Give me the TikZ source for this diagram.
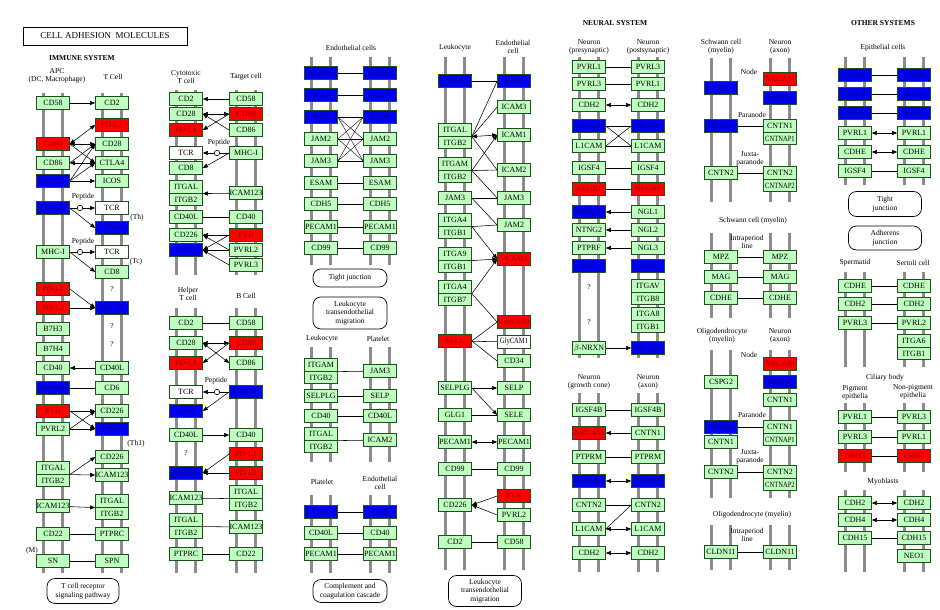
\documentclass[tikz,border=0pt]{standalone}
\usepackage{fontspec}
\setmainfont{Liberation Serif}
\usepackage{graphicx}
\usetikzlibrary{arrows.meta}
\definecolor{kgreen}{HTML}{BFFFBF}
\definecolor{kborder}{HTML}{1F4F1F}
\definecolor{kred}{HTML}{FF0000}
\definecolor{kredtxt}{HTML}{990000}
\definecolor{kblue}{HTML}{0000F0}
\definecolor{kbluetxt}{HTML}{00008B}
\definecolor{kgray}{HTML}{8C8C8C}
\newcommand\sq[1]{\scalebox{0.82}[1]{#1}}
\newcommand\gbx[4]{\node[gnbox] (#1) at (#2,#3) {#4};}
\newcommand\rbx[4]{\node[rdbox] (#1) at (#2,#3) {#4};}
\newcommand\bbx[4]{\node[blbox] (#1) at (#2,#3) {#4};}
\newcommand\wbx[4]{\node[whbox] (#1) at (#2,#3) {#4};}
\newcommand\dbx[5]{\node[gnbox] (#1a) at (#2,#3) {#4};\node[gnbox] (#1b) at (#2,#3+12.5) {#5};}
\newcommand\colln[3]{\draw[vline] (#1-9.5,#2) -- (#1-9.5,#3);\draw[vline] (#1+9.5,#2) -- (#1+9.5,#3);}
\tikzset{
 box/.style={draw=kborder,line width=0.7pt,minimum width=33pt,minimum height=12.5pt,inner sep=0pt,font=\fontsize{8}{8}\selectfont},
 gnbox/.style={box,fill=kgreen},
 rdbox/.style={box,fill=kred,text=kredtxt},
 blbox/.style={box,fill=kblue,text=kbluetxt},
 whbox/.style={box,fill=white},
 lbl/.style={font=\fontsize{7.5}{8}\selectfont,align=center,inner sep=0pt},
 ttl/.style={font=\bfseries\fontsize{7.5}{8}\selectfont,inner sep=0pt},
 conn/.style={draw=black,line width=0.55pt},
 arr/.style={conn,->},
 darr/.style={conn,<->},
 pep/.style={circle,draw=black,fill=white,line width=0.6pt,inner sep=0pt,minimum size=5.5pt},
 pwbox/.style={draw=black,rounded corners=8pt,line width=0.7pt,align=center,inner sep=0pt,font=\fontsize{7.5}{8.5}\selectfont},
 vline/.style={draw=kgray,line width=2.6pt}
}
\begin{document}
\begin{tikzpicture}[x=1pt,y=-1pt,>={Triangle[length=5pt,width=4pt]}]
\useasboundingbox (0,0) rectangle (940,610);
\fill[white] (0,0) rectangle (940,610);
% ---------- titles
\node[draw=black,line width=0.8pt,minimum width=164pt,minimum height=18pt,inner sep=0pt,font=\fontsize{9}{9}\selectfont] (title) at (105,36) {CELL ADHESION\ \ MOLECULES};
\node[ttl] (tim) at (82,58) {IMMUNE SYSTEM};
\node[ttl] (tne) at (615,23) {NEURAL SYSTEM};
\node[ttl] (tot) at (883,23) {OTHER SYSTEMS};
% ---------- column lines
\colln{53}{93}{573}\colln{112}{93}{573}
\colln{186}{90}{275}\colln{246}{90}{275}
\colln{186}{308}{573}\colln{246}{308}{573}
\colln{321}{57}{265}\colln{380}{57}{265}
\colln{321}{347}{462}\colln{380}{347}{462}
\colln{321}{495}{573}\colln{380}{495}{573}
\colln{455}{57}{570}\colln{514}{57}{570}
\colln{589}{57}{358}\colln{648}{57}{358}
\colln{589}{393}{572}\colln{648}{393}{572}
\colln{721}{58}{202}\colln{780}{58}{202}
\colln{721}{233}{318}\colln{780}{233}{318}
\colln{721}{350}{498}\colln{780}{350}{498}
\colln{721}{525}{570}\colln{780}{525}{570}
\colln{855}{57}{185}\colln{914}{57}{185}
\colln{855}{272}{367}\colln{914}{272}{367}
\colln{855}{403}{472}\colln{914}{403}{472}
\colln{855}{490}{572}\colln{914}{490}{572}
% ================= IMMUNE: APC / T cell
\node[lbl] (la1) at (57,76) {APC\\(DC, Macrophage)};
\node[lbl] (la2) at (113,77) {T Cell};
\gbx{a1}{53}{103}{CD58}\gbx{a2}{112}{103}{CD2}
\rbx{a3}{112}{125}{PD-L1}
\rbx{a4}{53}{144}{CD80}\gbx{a5}{112}{144}{CD28}
\gbx{a6}{53}{163}{CD86}\gbx{a7}{112}{163}{CTLA4}
\bbx{a8}{53}{181}{ICOSLG}\gbx{a9}{112}{181}{ICOS}
\bbx{a10}{53}{208}{MHC-II}\wbx{a11}{112}{208}{TCR}
\node[pep] (ac1) at (80,208) {};
\node[lbl] (la3) at (83,197) {Peptide};
\bbx{a12}{112}{228}{CD4}
\node[lbl] (la4) at (137,218) {(Th)};
\node[lbl] (la5) at (83,242) {Peptide};
\gbx{a13}{53}{252}{MHC-I}\wbx{a14}{112}{252}{TCR}
\node[pep] (ac2) at (80,252) {};
\node[lbl] (la6) at (136,262) {(Tc)};
\gbx{a15}{112}{272}{CD8}
\rbx{a16}{53}{289}{PD-L1}\node[lbl] (lq1) at (112,289) {?};
\rbx{a17}{53}{308}{PD-L2}\bbx{a18}{112}{308}{PDCD1}
\gbx{a19}{53}{329}{B7H3}\node[lbl] (lq2) at (112,326) {?};
\gbx{a20}{53}{349}{B7H4}\node[lbl] (lq3) at (112,344) {?};
\gbx{a21}{53}{368}{CD40}\gbx{a22}{112}{368}{CD40L}
\bbx{a23}{53}{388}{ALCAM}\gbx{a24}{112}{388}{CD6}
\rbx{a25}{53}{411}{PVR}\gbx{a26}{112}{411}{CD226}
\gbx{a27}{53}{429}{PVRL2}\bbx{a28}{112}{429}{TIGIT}
\node[lbl] (la7) at (136,444) {(Th1)};
\dbx{a29}{53}{468}{ITGAL}{ITGB2}
\gbx{a30}{112}{457}{CD226}\gbx{a31}{112}{475}{ICAM123}
\gbx{a32}{53}{506}{ICAM123}\dbx{a33}{112}{501}{ITGAL}{ITGB2}
\gbx{a34}{53}{534}{CD22}\gbx{a35}{112}{534}{PTPRC}
\gbx{a36}{53}{561}{SN}\gbx{a37}{112}{561}{SPN}
\node[lbl] (la8) at (32,551) {(M)};
\node[pwbox,minimum width=72pt,minimum height=25pt] (p1) at (83,591) {T cell receptor\\signaling pathway};
\draw[arr] (a1) -- (a2);
\draw[darr] (a4.east) -- (a3.west);
\draw[darr] (a4.east) -- (a5.west);
\draw[arr] (a4.east) -- (a7.west);
\draw[arr] (a6.east) -- (a5.west);
\draw[darr] (a6.east) -- (a7.west);
\draw[arr] (a8.east) -- (a5.west);
\draw[arr] (a8.east) -- (a7.west);
\draw[arr] (a8) -- (a9);
\draw[conn] (a10) -- (ac1);\draw[arr] (ac1) -- (a11);
\draw[arr] (a10.east) -- (a12.west);
\draw[conn] (a13) -- (ac2);\draw[arr] (ac2) -- (a14);
\draw[arr] (a13.east) -- (a15.west);
\draw[arr] (a16.east) -- (a18.west);
\draw[arr] (a17) -- (a18);
\draw[arr] (a22) -- (a21);
\draw[conn] (a23) -- (a24);
\draw[arr] (a25.east) -- (a26.west);\draw[arr] (a25.east) -- (a28.west);
\draw[arr] (a27.east) -- (a26.west);\draw[arr] (a27.east) -- (a28.west);
\draw[arr] (a29a.south east) -- (a30.west);\draw[arr] (a29a.south east) -- (a31.west);
\draw[arr] (a32) -- (a33a.south west);
\draw[conn] (a34) -- (a35);\draw[conn] (a36) -- (a37);
% ================= Cytotoxic / Target
\node[lbl] (lc1) at (186,77) {Cytotoxic\\T cell};
\node[lbl] (lc2) at (246,77) {Target cell};
\gbx{c1}{186}{99}{CD2}\gbx{c2}{246}{99}{CD58}
\gbx{c3}{186}{114}{CD28}\rbx{c4}{246}{114}{CD80}
\rbx{c5}{186}{130}{PD-L1}\gbx{c6}{246}{130}{CD86}
\wbx{c7}{186}{153}{TCR}\gbx{c8}{246}{153}{MHC-I}
\node[pep] (cc) at (217,153) {};
\node[lbl] (lc3) at (219,143) {Peptide};
\gbx{c9}{186}{168}{CD8}
\dbx{c10}{186}{187}{ITGAL}{ITGB2}\gbx{c11}{246}{193}{ICAM123}
\gbx{c12}{186}{217}{CD40L}\gbx{c13}{246}{217}{CD40}
\gbx{c14}{186}{235}{CD226}\rbx{c15}{246}{235}{PVR}
\bbx{c16}{186}{250}{TIGIT}\gbx{c17}{246}{250}{PVRL2}
\gbx{c18}{246}{265}{PVRL3}
\draw[arr] (c2) -- (c1);
\draw[darr] (c3.east) -- (c4.west);
\draw[arr] (c6.west) -- (c3.east);
\draw[arr] (c4.west) -- (c5.east);
\draw[conn] (c8) -- (cc);\draw[arr] (cc) -- (c7);
\draw[arr] (c8.west) -- (c9.east);
\draw[arr] (c11) -- (c10a.south east);
\draw[conn] (c12) -- (c13);
\draw[arr] (c15.west) -- (c14.east);\draw[arr] (c15.west) -- (c16.east);
\draw[arr] (c17.west) -- (c14.east);\draw[arr] (c17.west) -- (c16.east);
\draw[arr] (c18.west) -- (c16.east);
% ================= Helper / B cell
\node[lbl] (lh1) at (188,294) {Helper\\T cell};
\node[lbl] (lh2) at (246,296) {B Cell};
\gbx{h1}{186}{323}{CD2}\gbx{h2}{246}{323}{CD58}
\gbx{h3}{186}{343}{CD28}\rbx{h4}{246}{343}{CD80}
\rbx{h5}{186}{363}{PD-L1}\gbx{h6}{246}{363}{CD86}
\wbx{h7}{186}{392}{TCR}\bbx{h8}{246}{392}{MHC-II}
\node[pep] (hc) at (217,392) {};
\node[lbl] (lh3) at (216,381) {Peptide};
\bbx{h9}{186}{411}{CD4}
\gbx{h10}{186}{435}{CD40L}\gbx{h11}{246}{435}{CD40}
\node[lbl] (lq4) at (186,453) {?};
\rbx{h12}{246}{454}{PD-L1}
\bbx{h13}{186}{473}{PDCD1}\rbx{h14}{246}{473}{PD-L2}
\gbx{h15}{186}{498}{ICAM123}\dbx{h16}{246}{492}{ITGAL}{ITGB2}
\dbx{h17}{186}{520}{ITGAL}{ITGB2}\gbx{h18}{246}{527}{ICAM123}
\gbx{h19}{186}{554}{PTPRC}\gbx{h20}{246}{554}{CD22}
\draw[conn] (h1) -- (h2);
\draw[darr] (h3.east) -- (h4.west);
\draw[darr] (h3.east) -- (h6.west);
\draw[arr] (h4.west) -- (h5.east);
\draw[conn] (h8) -- (hc);\draw[arr] (hc) -- (h7);
\draw[arr] (h8.west) -- (h9.east);
\draw[arr] (h10) -- (h11);
\draw[arr] (h12.west) -- (h13.east);\draw[arr] (h14) -- (h13);
\draw[conn] (h15) -- (h16a.south west);
\draw[conn] (h17a.south east) -- (h18);
\draw[conn] (h19) -- (h20);
% ================= Endothelial cells
\node[lbl] (le0) at (351,48) {Endothelial cells};
\bbx{el1}{321}{73}{CLDN}\bbx{er1}{380}{73}{CLDN}
\bbx{el2}{321}{95}{OCLN}\bbx{er2}{380}{95}{OCLN}
\bbx{el3}{321}{117}{F11R}\bbx{er3}{380}{117}{F11R}
\gbx{el4}{321}{139}{JAM2}\gbx{er4}{380}{139}{JAM2}
\gbx{el5}{321}{161}{JAM3}\gbx{er5}{380}{161}{JAM3}
\gbx{el6}{321}{183}{ESAM}\gbx{er6}{380}{183}{ESAM}
\gbx{el7}{321}{204}{CDH5}\gbx{er7}{380}{204}{CDH5}
\gbx{el8}{321}{227}{PECAM1}\gbx{er8}{380}{227}{PECAM1}
\gbx{el9}{321}{248}{CD99}\gbx{er9}{380}{248}{CD99}
\foreach \i in {1,...,9}{\draw[conn] (el\i) -- (er\i);}
\draw[conn,line width=0.4pt] (el3.east) -- (er4.west);\draw[conn,line width=0.4pt] (el3.east) -- (er5.west);
\draw[conn,line width=0.4pt] (el4.east) -- (er3.west);\draw[conn,line width=0.4pt] (el4.east) -- (er5.west);
\draw[conn,line width=0.4pt] (el5.east) -- (er3.west);\draw[conn,line width=0.4pt] (el5.east) -- (er4.west);
\node[pwbox,minimum width=74pt,minimum height=18pt] (p2) at (350,278) {Tight junction};
\node[pwbox,minimum width=74pt,minimum height=32pt] (p3) at (350,313) {Leukocyte\\transendothelial\\migration};
% ================= Leukocyte / Platelet
\node[lbl] (lp1) at (322,339) {Leukocyte};
\node[lbl] (lp2) at (378,339) {Platelet};
\dbx{pl1}{321}{365}{ITGAM}{ITGB2}\gbx{pr1}{380}{371}{JAM3}
\gbx{pl2}{321}{396}{SELPLG}\gbx{pr2}{380}{396}{SELP}
\gbx{pl3}{321}{416}{CD40}\gbx{pr3}{380}{416}{CD40L}
\dbx{pl4}{321}{434}{ITGAL}{ITGB2}\gbx{pr4}{380}{440}{ICAM2}
\draw[conn] (pl1a.south east) -- (pr1);
\draw[conn] (pl2) -- (pr2);\draw[conn] (pl3) -- (pr3);
\draw[conn] (pl4a.south east) -- (pr4);
% ================= Platelet / Endothelial
\node[lbl] (lq5) at (322,482) {Platelet};
\node[lbl] (lq6) at (380,483) {Endothelial\\cell};
\bbx{ql1}{321}{512}{F11R}\bbx{qr1}{380}{512}{F11R}
\gbx{ql2}{321}{533}{CD40L}\gbx{qr2}{380}{533}{CD40}
\gbx{ql3}{321}{554}{PECAM1}\gbx{qr3}{380}{554}{PECAM1}
\draw[conn] (ql1) -- (qr1);\draw[conn] (ql2) -- (qr2);\draw[conn] (ql3) -- (qr3);
\node[pwbox,minimum width=74pt,minimum height=23pt] (p4) at (350,591) {Complement and\\coagulation cascade};
% ================= Leukocyte / Endothelial cell
\node[lbl] (lm1) at (455,48) {Leukocyte};
\node[lbl] (lm2) at (513,47) {Endothelial\\cell};
\bbx{l1}{455}{81}{F11R}\bbx{m1}{514}{81}{F11R}
\gbx{m2}{514}{107}{ICAM3}
\dbx{l2}{455}{130}{ITGAL}{ITGB2}\gbx{m3}{514}{135}{ICAM1}
\dbx{l3}{455}{164}{ITGAM}{ITGB2}\gbx{m4}{514}{170}{ICAM2}
\gbx{l4}{455}{198}{JAM3}\gbx{m5}{514}{198}{JAM3}
\dbx{l5}{455}{220}{ITGA4}{ITGB1}\gbx{m6}{514}{225}{JAM2}
\dbx{l6}{455}{254}{ITGA9}{ITGB1}\rbx{m7}{514}{259}{VCAM1}
\dbx{l7}{455}{287}{ITGA4}{ITGB7}\rbx{m8}{514}{322}{\sq{MAdCAM1}}
\rbx{l8}{455}{341}{SELL}\wbx{m9}{514}{342}{\sq{GlyCAM1}}
\gbx{m10}{514}{361}{CD34}
\gbx{l9}{455}{388}{SELPLG}\gbx{m11}{514}{388}{SELP}
\gbx{l10}{455}{415}{GLG1}\gbx{m12}{514}{415}{SELE}
\gbx{l11}{455}{442}{PECAM1}\gbx{m13}{514}{442}{PECAM1}
\gbx{l12}{455}{469}{CD99}\gbx{m14}{514}{469}{CD99}
\rbx{m15}{514}{496}{PVR}\gbx{l13}{455}{505}{CD226}\gbx{m16}{514}{515}{PVRL2}
\gbx{l14}{455}{542}{CD2}\gbx{m17}{514}{542}{CD58}
\node[pwbox,minimum width=73pt,minimum height=31pt] (p5) at (485,591) {Leukocyte\\transendothelial\\migration};
\draw[conn] (l1) -- (m1);
\draw[conn] (l2a.south east) -- (m1.west);
\draw[conn] (l2a.south east) -- (m2.west);
\draw[darr] (l2a.south east) -- (m3.west);
\draw[conn] (l2a.south east) -- (m4.west);
\draw[arr] (l3a.south east) -- (m3.west);
\draw[conn] (l3a.south east) -- (m4.west);
\draw[conn] (l3a.south east) -- (m5.west);
\draw[conn] (l4) -- (m5);
\draw[conn] (l4.east) -- (m6.west);
\draw[conn] (l5a.south east) -- (m6.west);
\draw[arr] (l5a.south east) -- (m7.west);
\draw[arr] (l6a.south east) -- (m7.west);
\draw[arr] (l7a.south east) -- (m7.west);
\draw[conn] (l7a.south east) -- (m8.west);
\draw[conn] (l8.east) -- (m8.west);
\draw[conn] (l8) -- (m9);
\draw[conn] (l8.east) -- (m10.west);
\draw[arr] (l9) -- (m11);
\draw[arr] (l9.east) -- (m12.west);
\draw[conn] (l10) -- (m12);
\draw[darr] (l11) -- (m13);
\draw[conn] (l12) -- (m14);
\draw[arr] (m15.west) -- (l13.east);
\draw[arr] (m16.west) -- (l13.east);
\draw[conn] (l14) -- (m17);
% ================= Neural: pre / post synaptic
\node[lbl] (ln1) at (589,47) {Neuron\\(presynaptic)};
\node[lbl] (ln2) at (648,47) {Neuron\\(postsynaptic)};
\gbx{n1}{589}{67}{PVRL1}\gbx{o1}{648}{67}{PVRL3}
\gbx{n2}{589}{84}{PVRL3}\gbx{o2}{648}{84}{PVRL1}
\gbx{n3}{589}{105}{CDH2}\gbx{o3}{648}{105}{CDH2}
\bbx{n4}{589}{126}{NCAM}\bbx{o4}{648}{126}{NCAM}
\gbx{n5}{589}{146}{L1CAM}\gbx{o5}{648}{146}{L1CAM}
\gbx{n6}{589}{168}{IGSF4}\gbx{o6}{648}{168}{IGSF4}
\rbx{n7}{589}{189}{NEGR1}\rbx{o7}{648}{189}{NEGR1}
\bbx{n8}{589}{212}{NTNG1}\gbx{o8}{648}{212}{NGL1}
\gbx{n9}{589}{230}{NTNG2}\gbx{o9}{648}{230}{NGL2}
\gbx{n10}{589}{248}{PTPRF}\gbx{o10}{648}{248}{NGL3}
\bbx{n11}{589}{266}{SDC}\bbx{o11}{648}{266}{SDC}
\node[lbl] (lq7) at (589,287) {?};\dbx{o12}{648}{286}{ITGAV}{ITGB8}
\node[lbl] (lq8) at (589,322) {?};\dbx{o13}{648}{314}{ITGA8}{ITGB1}
\gbx{n12}{589}{348}{$\beta$-NRXN}\bbx{o14}{648}{348}{NLGN}
\draw[conn] (n1) -- (o1);\draw[conn] (n2) -- (o2);
\draw[darr] (n3) -- (o3);
\draw[conn] (n4) -- (o4);\draw[conn] (n5) -- (o5);
\draw[conn] (n4.east) -- (o5.west);\draw[conn] (n5.east) -- (o4.west);
\draw[conn] (n6) -- (o6);\draw[conn] (n7) -- (o7);
\draw[arr] (o8) -- (n8);\draw[arr] (o9) -- (n9);\draw[arr] (o10) -- (n10);
\draw[arr] (n12) -- (o14);
% ================= Neural: growth cone / axon
\node[lbl] (lg1) at (589,382) {Neuron\\(growth cone)};
\node[lbl] (lg2) at (648,382) {Neuron\\(axon)};
\gbx{g1}{589}{410}{IGSF4B}\gbx{q1}{648}{410}{IGSF4B}
\rbx{g2}{589}{433}{NRCAM}\gbx{q2}{648}{433}{CNTN1}
\gbx{g3}{589}{457}{PTPRM}\gbx{q3}{648}{457}{PTPRM}
\bbx{g4}{589}{481}{NCAM}\bbx{q4}{648}{481}{NCAM}
\gbx{g5}{589}{505}{CNTN2}\gbx{q5}{648}{505}{CNTN2}
\gbx{g6}{589}{529}{L1CAM}\gbx{q6}{648}{529}{L1CAM}
\gbx{g7}{589}{553}{CDH2}\gbx{q7}{648}{553}{CDH2}
\draw[conn] (g1) -- (q1);\draw[arr] (q2) -- (g2);\draw[conn] (g3) -- (q3);
\draw[darr] (g4) -- (q4);\draw[conn] (g5) -- (q5);
\draw[darr] (g6) -- (q6);\draw[conn] (q5.west) -- (g6.east);
\draw[darr] (g7) -- (q7);
% ================= Schwann cell / Neuron axon
\node[lbl] (ls1) at (721,47) {Schwann cell\\(myelin)};
\node[lbl] (ls2) at (780,47) {Neuron\\(axon)};
\node[lbl] (ls3) at (749,72) {Node};
\rbx{s1}{780}{79}{NRCAM}
\bbx{s2}{721}{88}{SDC}\bbx{s3}{780}{98}{NFASC}
\node[lbl] (ls4) at (752,115) {Paranode};
\bbx{s4}{721}{126}{NFASC}\node[gnbox] (s5a) at (780,126) {CNTN1};\node[gnbox] (s5b) at (780,138.5) {\sq{CNTNAP1}};
\node[lbl] (ls5) at (750,159) {Juxta-\\paranode};
\gbx{s6}{721}{173}{CNTN2}\node[gnbox] (s7a) at (780,173) {CNTN2};\node[gnbox] (s7b) at (780,185.5) {\sq{CNTNAP2}};
\draw[conn] (s4) -- (s5a);\draw[conn] (s6) -- (s7a);
\node[lbl] (ls6) at (753,221) {Schwann cell (myelin)};
\node[lbl] (ls7) at (747,242) {Intraperiod\\line};
\gbx{s8}{721}{257}{MPZ}\gbx{s9}{780}{257}{MPZ}
\gbx{s10}{721}{277}{MAG}\gbx{s11}{780}{277}{MAG}
\gbx{s12}{721}{298}{CDHE}\gbx{s13}{780}{298}{CDHE}
\draw[conn] (s8) -- (s9);\draw[conn] (s10) -- (s11);\draw[conn] (s12) -- (s13);
% ================= Oligodendrocyte / Neuron axon
\node[lbl] (lo1) at (722,336) {Oligodendrocyte\\(myelin)};
\node[lbl] (lo2) at (780,336) {Neuron\\(axon)};
\node[lbl] (lo3) at (749,355) {Node};
\rbx{u1}{780}{364}{NRCAM}
\gbx{u2}{721}{382}{CSPG2}\bbx{u3}{780}{382}{NFASC}
\gbx{u4}{780}{400}{CNTN1}
\node[lbl] (lo4) at (752,415) {Paranode};
\bbx{u5}{721}{427}{NFASC}\node[gnbox] (u6a) at (780,427) {CNTN1};\node[gnbox] (u6b) at (780,439.5) {\sq{CNTNAP1}};
\gbx{u7}{721}{442}{CNTN1}
\node[lbl] (lo5) at (750,457) {Juxta-\\paranode};
\gbx{u8}{721}{472}{CNTN2}\node[gnbox] (u9a) at (780,472) {CNTN2};\node[gnbox] (u9b) at (780,484.5) {\sq{CNTNAP2}};
\draw[conn] (u5) -- (u6a);\draw[conn] (u8) -- (u9a);
\node[lbl] (lo6) at (752,515) {Oligodendrocyte (myelin)};
\node[lbl] (lo7) at (747,535) {Intraperiod\\line};
\gbx{u10}{721}{552}{CLDN11}\gbx{u11}{780}{552}{CLDN11}
\draw[conn] (u10) -- (u11);
% ================= Other systems: epithelial
\node[lbl] (lx1) at (883,48) {Epithelial cells};
\bbx{x1}{855}{75}{CLDN}\bbx{y1}{914}{75}{CLDN}
\bbx{x2}{855}{94}{OCLN}\bbx{y2}{914}{94}{OCLN}
\bbx{x3}{855}{113}{F11R}\bbx{y3}{914}{113}{F11R}
\gbx{x4}{855}{133}{PVRL1}\gbx{y4}{914}{133}{PVRL1}
\gbx{x5}{855}{152}{CDHE}\gbx{y5}{914}{152}{CDHE}
\gbx{x6}{855}{171}{IGSF4}\gbx{y6}{914}{171}{IGSF4}
\draw[conn] (x1) -- (y1);\draw[conn] (x2) -- (y2);\draw[conn] (x3) -- (y3);
\draw[darr] (x4) -- (y4);\draw[darr] (x5) -- (y5);\draw[conn] (x6) -- (y6);
\node[pwbox,minimum width=73pt,minimum height=25pt] (p6) at (885,204) {Tight\\junction};
\node[pwbox,minimum width=73pt,minimum height=24pt] (p7) at (885,238) {Adherens\\junction};
% ================= Spermatid / Sertoli
\node[lbl] (lx2) at (855,263) {Spermatid};
\node[lbl] (lx3) at (913,263) {Sertoli cell};
\gbx{x7}{855}{286}{CDHE}\gbx{y7}{914}{286}{CDHE}
\gbx{x8}{855}{304}{CDH2}\gbx{y8}{914}{304}{CDH2}
\gbx{x9}{855}{323}{PVRL3}\gbx{y9}{914}{323}{PVRL2}
\dbx{y10}{914}{341}{ITGA6}{ITGB1}
\draw[conn] (x7) -- (y7);\draw[conn] (x8) -- (y8);\draw[conn] (x9) -- (y9);
% ================= Ciliary body
\node[lbl] (lx4) at (885,378) {Ciliary body};
\node[lbl] (lx5) at (855,393) {Pigment\\epithelia};
\node[lbl] (lx6) at (913,392) {Non-pigment\\epithelia};
\gbx{x11}{855}{417}{PVRL1}\gbx{y11}{914}{417}{PVRL3}
\gbx{x12}{855}{437}{PVRL3}\gbx{y12}{914}{437}{PVRL1}
\rbx{x13}{855}{456}{CDH3}\rbx{y13}{914}{456}{CDH3}
\draw[conn] (x11) -- (y11);\draw[conn] (x12) -- (y12);\draw[conn] (x13) -- (y13);
% ================= Myoblasts
\node[lbl] (lx7) at (883,482) {Myoblasts};
\gbx{x14}{855}{503}{CDH2}\gbx{y14}{914}{503}{CDH2}
\gbx{x15}{855}{520}{CDH4}\gbx{y15}{914}{520}{CDH4}
\gbx{x16}{855}{538}{CDH15}\gbx{y16}{914}{538}{CDH15}
\gbx{y17}{914}{556}{NEO1}
\draw[darr] (x14) -- (y14);\draw[darr] (x15) -- (y15);\draw[conn] (x16) -- (y16);
\end{tikzpicture}
\end{document}
